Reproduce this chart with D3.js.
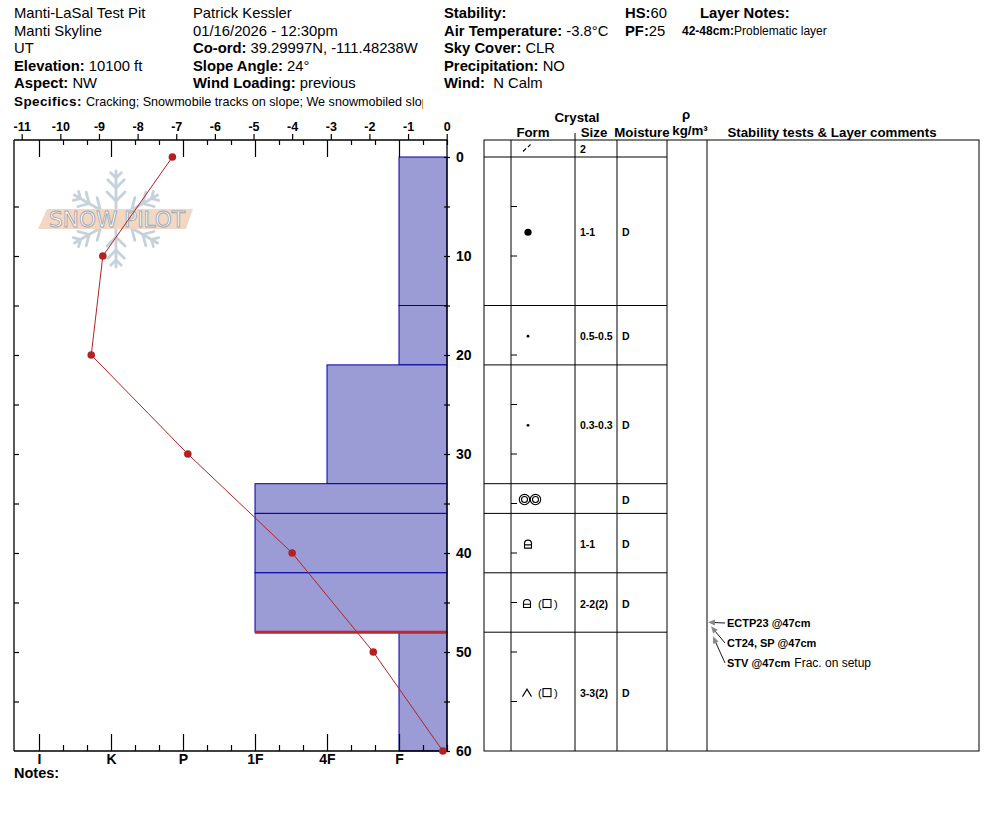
<!DOCTYPE html>
<html>
<head>
<meta charset="utf-8">
<script src="https://cdn.jsdelivr.net/npm/d3@7"></script>
<style>
  body { margin: 0; background: #fff; }
  svg { display: block; }
  text { font-family: "Liberation Sans", Arial, sans-serif; fill: #000; }
</style>
</head>
<body>
<svg id="chart" width="994" height="840"></svg>
<script>
// ---- data ----
const tempTicks = [-11, -10, -9, -8, -7, -6, -5, -4, -3, -2, -1, 0];
const depthTicks = [0, 5, 10, 15, 20, 25, 30, 35, 40, 45, 50, 55, 60];
const hardnessLabels = ['I', 'K', 'P', '1F', '4F', 'F'];

const tempDepths = [0, 10, 20, 30, 40, 50, 60];
const tempValues = [-7.1, -8.9, -9.2, -6.7, -4.0, -1.9, -0.1];

const layerTops = [0, 15, 21, 33, 36, 42, 48];
const layerBottoms = [15, 21, 33, 36, 42, 48, 60];
const layerHardness = ['F', 'F', '4F', '1F', '1F', '1F', 'F'];
const layerForms = ['PPgp', 'RGsr', 'RGsr', 'MFcr', 'FCxr', 'FCxr', 'DH'];
const layerForms2 = ['', '', '', '', '', 'FC', 'FC'];
const layerSizes = ['1-1', '0.5-0.5', '0.3-0.3', '', '1-1', '2-2(2)', '3-3(2)'];
const layerMoisture = ['D', 'D', 'D', 'D', 'D', 'D', 'D'];
const surfaceForm = 'DF';
const surfaceSize = '2';
const problemDepth = 48;

const testLabels = ['ECTP23 @47cm', 'CT24, SP @47cm', 'STV @47cm'];
const testDepths = [47, 47, 47];
const testComments = ['', '', 'Frac. on setup'];

const headerCol1 = [['', 'Manti-LaSal Test Pit'], ['', 'Manti Skyline'], ['', 'UT'], ['Elevation:', ' 10100 ft'], ['Aspect:', ' NW']];
const headerCol2 = [['', 'Patrick Kessler'], ['', '01/16/2026 - 12:30pm'], ['Co-ord:', ' 39.29997N, -111.48238W'], ['Slope Angle:', ' 24°'], ['Wind Loading:', ' previous']];
const headerCol3 = [['Stability:', ''], ['Air Temperature:', ' -3.8°C'], ['Sky Cover:', ' CLR'], ['Precipitation:', ' NO'], ['Wind:', '  N Calm']];
const headerCol4 = [['HS:', '60'], ['PF:', '25']];
const specifics = 'Cracking; Snowmobile tracks on slope; We snowmobiled slope';

// ---- layout ----
const plot = { left: 14, right: 447, top: 140, bottom: 751 };
const tableCols = [484, 511, 575, 617, 667, 707, 979];
const barFill = '#9b9bd5';
const barStroke = '#0000a0';
const red = '#b22222';

const svg = d3.select('#chart');

const y = d3.scaleLinear().domain([0, 60]).range([157, 751]);
const xTemp = d3.scaleLinear().domain([-11, 0]).range([21.7, 446.7]);
// hardness index: I = 0 ... F = 5, thirds in between
const xHard = d3.scaleLinear().domain([0, 5]).range([39, 399]);
const hardIndex = h => hardnessLabels.indexOf(h);

// ---- header ----
const lineY = [18, 35.5, 53, 70.5, 88];

const writeLines = (x, lines) => {
  lines.forEach((l, i) => {
    const t = svg.append('text').attr('x', x).attr('y', lineY[i]).style('font-size', '14.8px')
      .style('white-space', 'pre');
    if (l[0]) t.append('tspan').attr('font-weight', 'bold').text(l[0]);
    if (l[1]) t.append('tspan').text(l[1]);
  });
};
writeLines(14, headerCol1);
writeLines(193, headerCol2);
writeLines(444, headerCol3);
writeLines(625, headerCol4);

svg.append('text').attr('x', 700).attr('y', lineY[0]).attr('font-weight', 'bold')
  .style('font-size', '14.8px').text('Layer Notes:');
const ln = svg.append('text').attr('x', 682).attr('y', 35).style('font-size', '12px');
ln.append('tspan').attr('font-weight', 'bold').text('42-48cm:');
ln.append('tspan').text('Problematic layer');

svg.append('clipPath').attr('id', 'specClip')
  .append('rect').attr('x', 0).attr('y', 90).attr('width', 423).attr('height', 20);
const sp = svg.append('text').attr('x', 14).attr('y', 106).attr('clip-path', 'url(#specClip)');
sp.append('tspan').attr('font-weight', 'bold').style('font-size', '13.5px')
  .style('letter-spacing', '0.4px').text('Specifics: ');
sp.append('tspan').style('font-size', '12.6px').text(specifics);

// ---- snowpilot watermark ----
const logo = svg.append('g').attr('transform', 'translate(116,219)');
const flake = logo.append('g').attr('stroke', '#c5d1db').attr('stroke-width', 2.8)
  .attr('fill', 'none').attr('stroke-linecap', 'round');
d3.range(6).forEach(k => {
  const arm = flake.append('g').attr('transform', `rotate(${k * 60})`);
  arm.append('line').attr('x1', 0).attr('y1', 0).attr('x2', 0).attr('y2', -48);
  [[-18, 12], [-31, 11], [-41, 7]].forEach(([d, len]) => {
    arm.append('path').attr('d', `M${-len * 0.75},${d - len * 0.75} L0,${d} L${len * 0.75},${d - len * 0.75}`);
  });
});
logo.append('path').attr('d', 'M-69,-10 L77,-10 L70,10 L-78,10 Z').attr('fill', '#f3d5c0').attr('opacity', 0.95);
logo.append('text').attr('x', 1).attr('y', 8).attr('text-anchor', 'middle')
  .attr('textLength', 136).attr('lengthAdjust', 'spacingAndGlyphs')
  .style('font-family', '"DejaVu Sans", sans-serif').style('font-size', '21px')
  .style('fill', '#ffffff').attr('stroke', '#9ea8b0').attr('stroke-width', 0.9)
  .text('SNOW PILOT');

// ---- hardness bars ----
const layerIdx = d3.range(layerTops.length);
svg.append('g').selectAll('rect').data(layerIdx).join('rect')
  .attr('x', i => xHard(hardIndex(layerHardness[i])))
  .attr('y', i => y(layerTops[i]))
  .attr('width', i => plot.right - xHard(hardIndex(layerHardness[i])))
  .attr('height', i => y(layerBottoms[i]) - y(layerTops[i]))
  .attr('fill', barFill).attr('stroke', barStroke).attr('stroke-width', 1);

// problematic layer marker
const probI = layerBottoms.indexOf(problemDepth);
svg.append('line')
  .attr('x1', xHard(hardIndex(layerHardness[probI]))).attr('x2', plot.right)
  .attr('y1', y(problemDepth)).attr('y2', y(problemDepth))
  .attr('stroke', '#c0262d').attr('stroke-width', 3);

// ---- frame and axes ----
svg.append('g').attr('stroke', '#000').attr('stroke-width', 1.3).attr('fill', 'none')
  .call(g => {
    g.append('line').attr('x1', plot.left).attr('x2', plot.right).attr('y1', plot.top).attr('y2', plot.top);
    g.append('line').attr('x1', plot.left).attr('x2', plot.right).attr('y1', plot.bottom).attr('y2', plot.bottom);
    g.append('line').attr('x1', plot.left).attr('x2', plot.left).attr('y1', plot.top).attr('y2', plot.bottom);
    g.append('line').attr('x1', plot.right).attr('x2', plot.right).attr('y1', plot.top).attr('y2', plot.bottom);
  });

const styleAxis = (g, size) => {
  g.select('.domain').remove();
  g.selectAll('line').attr('stroke', '#000').attr('stroke-width', 1.2);
  g.selectAll('text').attr('font-weight', 'bold').style('font-size', size)
    .style('font-family', '"Liberation Sans", Arial, sans-serif');
};

// temperature ticks (plain hyphen minus as on the sheet)
svg.append('g').attr('transform', `translate(0,${plot.top})`)
  .call(d3.axisTop(xTemp).tickValues(tempTicks).tickSize(6).tickPadding(3).tickFormat(d => String(d)))
  .call(g => styleAxis(g, '12.5px'));

// hardness ticks top and bottom
const hardMajor = d3.range(0, 6);
const hardMinor = d3.range(1, 18).filter(v => v % 3 !== 0).map(v => v / 3);
svg.append('g').attr('transform', `translate(0,${plot.top})`)
  .call(d3.axisBottom(xHard).tickValues(hardMajor).tickSize(17).tickFormat(''))
  .call(g => styleAxis(g, '12px'));
svg.append('g').attr('transform', `translate(0,${plot.top})`)
  .call(d3.axisBottom(xHard).tickValues(hardMinor).tickSize(5).tickFormat(''))
  .call(g => styleAxis(g, '12px'));
svg.append('g').attr('transform', `translate(0,${plot.bottom})`)
  .call(d3.axisTop(xHard).tickValues(hardMajor).tickSize(17).tickFormat(''))
  .call(g => styleAxis(g, '12px'));
svg.append('g').attr('transform', `translate(0,${plot.bottom})`)
  .call(d3.axisTop(xHard).tickValues(hardMinor).tickSize(6).tickFormat(''))
  .call(g => styleAxis(g, '12px'));
svg.append('g').attr('transform', `translate(0,${plot.bottom})`)
  .call(d3.axisBottom(xHard).tickValues(hardMajor).tickSize(0).tickPadding(3)
    .tickFormat(i => hardnessLabels[i]))
  .call(g => styleAxis(g, '14px'));

// depth ticks
svg.append('g').attr('transform', `translate(${plot.left},0)`)
  .call(d3.axisRight(y).tickValues(depthTicks.slice(1, -1)).tickSize(5).tickFormat(''))
  .call(g => styleAxis(g, '12px'));
svg.append('g').attr('transform', `translate(${plot.right - 3},0)`)
  .call(d3.axisRight(y).tickValues(depthTicks).tickSize(6).tickPadding(6)
    .tickFormat(d => (d % 10 === 0 ? d : '')))
  .call(g => styleAxis(g, '14px'));

// ---- temperature profile ----
svg.append('path').datum(d3.range(tempDepths.length))
  .attr('fill', 'none').attr('stroke', red).attr('stroke-width', 1)
  .attr('d', d3.line().x(i => xTemp(tempValues[i])).y(i => y(tempDepths[i])));
svg.append('g').selectAll('circle').data(d3.range(tempDepths.length)).join('circle')
  .attr('cx', i => xTemp(tempValues[i])).attr('cy', i => y(tempDepths[i]))
  .attr('r', 3.8).attr('fill', red);

svg.append('text').attr('x', 14).attr('y', 778).attr('font-weight', 'bold')
  .style('font-size', '14.5px').text('Notes:');

// ---- layer table ----
const table = svg.append('g').attr('stroke', '#000').attr('stroke-width', 1).attr('fill', 'none');
table.append('rect').attr('x', tableCols[0]).attr('y', plot.top)
  .attr('width', tableCols[6] - tableCols[0]).attr('height', plot.bottom - plot.top);
tableCols.slice(1, 6).forEach(cx => {
  table.append('line').attr('x1', cx).attr('x2', cx).attr('y1', plot.top).attr('y2', plot.bottom);
});
table.append('line').attr('x1', tableCols[2]).attr('x2', tableCols[2]).attr('y1', 133).attr('y2', plot.top);
const rowLines = Array.from(new Set(layerTops.concat(layerBottoms.slice(0, -1))));
rowLines.forEach(d => {
  table.append('line').attr('x1', tableCols[0]).attr('x2', tableCols[4])
    .attr('y1', y(d)).attr('y2', y(d));
});
// depth ticks on the form column
table.selectAll('.ftick').data(depthTicks.slice(1, -1)).join('line')
  .attr('x1', tableCols[1]).attr('x2', tableCols[1] + 6)
  .attr('y1', d => y(d)).attr('y2', d => y(d));

// table header
const hdr = (x, yy, s, anchor = 'middle') => svg.append('text').attr('x', x).attr('y', yy)
  .attr('text-anchor', anchor).attr('font-weight', 'bold').style('font-size', '13.3px').text(s);
hdr(577, 122, 'Crystal');
hdr(533, 137, 'Form');
hdr(594, 137, 'Size');
hdr(642, 137, 'Moisture');
hdr(686, 119, 'ρ');
hdr(690, 135, 'kg/m³');
hdr(832, 137, 'Stability tests & Layer comments');

// grain form symbols
const drawForm = (g, code, cx, cy) => {
  const s = g.append('g').attr('transform', `translate(${cx},${cy})`)
    .attr('stroke', '#000').attr('fill', 'none').attr('stroke-width', 1.1);
  if (code === 'DF') {
    s.append('line').attr('x1', -4).attr('y1', 3).attr('x2', -1).attr('y2', 0);
    s.append('line').attr('x1', 1).attr('y1', -1.5).attr('x2', 3.5).attr('y2', -4);
  } else if (code === 'PPgp') {
    s.append('circle').attr('r', 3.6).attr('fill', '#000').attr('stroke', 'none');
  } else if (code === 'RGsr') {
    s.append('circle').attr('r', 1.4).attr('fill', '#000').attr('stroke', 'none');
  } else if (code === 'MFcr') {
    [-5.5, 5.5].forEach(dx => {
      s.append('circle').attr('cx', dx).attr('r', 5.2);
      s.append('circle').attr('cx', dx).attr('r', 3);
    });
  } else if (code === 'FCxr') {
    s.append('path').attr('d', 'M-3.5,4 V-0.5 A3.5,3.5 0 0 1 3.5,-0.5 V4 Z M-3.5,0.8 H3.5');
  } else if (code === 'FC') {
    s.append('rect').attr('x', -4).attr('y', -4).attr('width', 8).attr('height', 8);
  } else if (code === 'DH') {
    s.append('path').attr('d', 'M-4.5,4 L0,-3.5 L4.5,4');
  }
};

const cellText = (x, yy, s) => svg.append('text').attr('x', x).attr('y', yy)
  .attr('font-weight', 'bold').style('font-size', '10.5px').attr('dominant-baseline', 'central').text(s);

// surface row
const surfY = (plot.top + y(0)) / 2;
drawForm(svg, surfaceForm, 527, surfY);
cellText(580, surfY, surfaceSize);

layerIdx.forEach(i => {
  const cy = (y(layerTops[i]) + y(layerBottoms[i])) / 2 + 1;
  if (layerForms2[i]) {
    drawForm(svg, layerForms[i], 527, cy);
    svg.append('text').attr('x', 538).attr('y', cy).attr('dominant-baseline', 'central')
      .style('font-size', '11px').text('(');
    drawForm(svg, layerForms2[i], 547, cy);
    svg.append('text').attr('x', 554).attr('y', cy).attr('dominant-baseline', 'central')
      .style('font-size', '11px').text(')');
  } else {
    drawForm(svg, layerForms[i], layerForms[i] === 'MFcr' ? 530 : 528, cy);
  }
  cellText(580, cy, layerSizes[i]);
  cellText(622, cy, layerMoisture[i]);
});

// ---- stability tests ----
const tipOffsets = [[0, 0], [3, 4], [5, 14]];
const textRows = [623, 643, 663];
testLabels.forEach((lab, i) => {
  const tx = 708 + tipOffsets[i][0];
  const ty = y(testDepths[i]) + tipOffsets[i][1];
  const ang = Math.atan2(textRows[i] - ty, 725 - tx);
  svg.append('line').attr('x1', 725).attr('y1', textRows[i]).attr('x2', tx + 4 * Math.cos(ang)).attr('y2', ty + 4 * Math.sin(ang))
    .attr('stroke', '#000').attr('stroke-width', 0.9);
  const a = ang * 180 / Math.PI;
  svg.append('path').attr('d', 'M0,0 L7,-3 L7,3 Z').attr('fill', '#888')
    .attr('transform', `translate(${tx},${ty}) rotate(${a})`);
  const t = svg.append('text').attr('x', 727).attr('y', textRows[i]).attr('dominant-baseline', 'central');
  t.append('tspan').attr('font-weight', 'bold').style('font-size', '11px').text(lab);
  if (testComments[i]) t.append('tspan').attr('dx', 4).style('font-size', '12px').text(testComments[i]);
});
</script>
</body>
</html>
